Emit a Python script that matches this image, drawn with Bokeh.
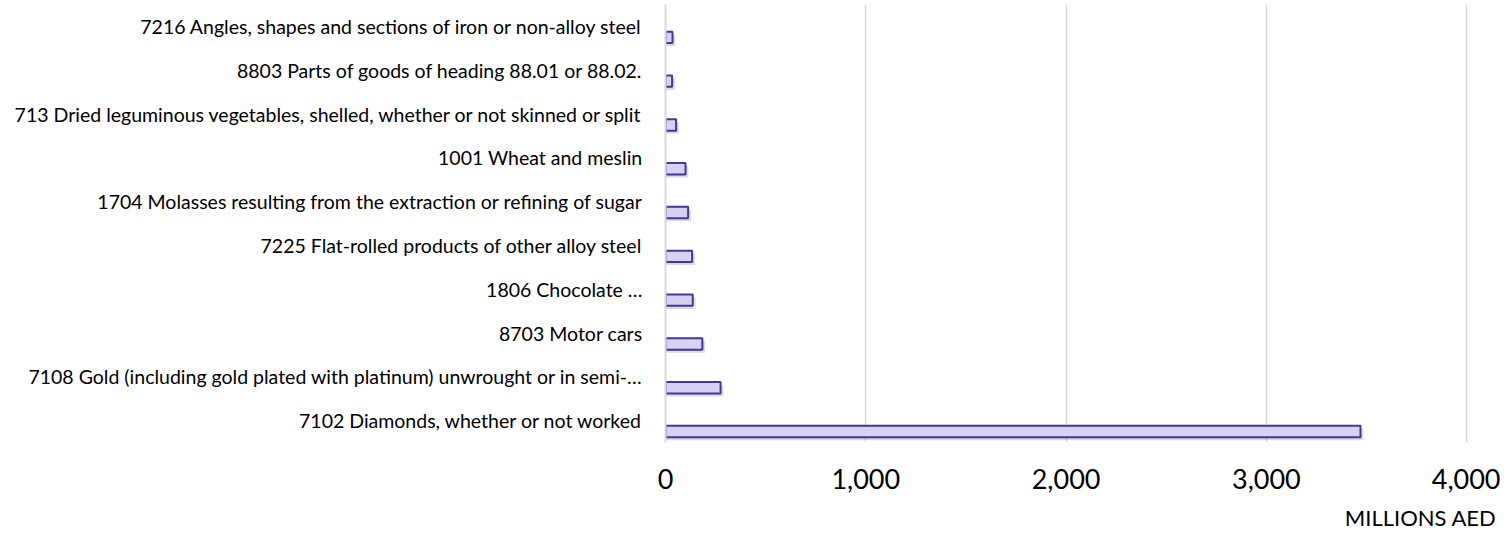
from bokeh.plotting import figure
from bokeh.models import FactorRange, FixedTicker, NumeralTickFormatter, ColumnDataSource, Title, Range1d
from bokeh.transform import dodge
from bokeh.embed import file_html
from bokeh.resources import INLINE

# Data (top to bottom as shown)
categories = [
    "7216 Angles, shapes and sections of iron or non-alloy steel",
    "8803 Parts of goods of heading 88.01 or 88.02.",
    "713 Dried leguminous vegetables, shelled, whether or not skinned or split",
    "1001 Wheat and meslin",
    "1704 Molasses resulting from the extraction or refining of sugar",
    "7225 Flat-rolled products of other alloy steel",
    "1806 Chocolate …",
    "8703 Motor cars",
    "7108 Gold (including gold plated with platinum) unwrought or in semi-…",
    "7102 Diamonds, whether or not worked",
]
values = [35, 33, 53, 100, 113, 133, 136, 184, 275, 3470]
x_ticks = [0, 1000, 2000, 3000, 4000]
x_title = "MILLIONS AED"

# bottom-to-top order for the factor range
cats_bt = categories[::-1]
vals_bt = values[::-1]
source = ColumnDataSource(dict(cat=cats_bt, val=vals_bt,
                               shadow=[v + 14 for v in vals_bt]))

FONT = "Lato"

p = figure(
    width=1500, height=541,
    y_range=FactorRange(factors=cats_bt, range_padding=0),
    x_range=Range1d(0, 4149),
    output_backend="svg", toolbar_location=None,
    min_border_left=665, min_border_right=4, min_border_top=4, min_border_bottom=99,
)
p.outline_line_color = None
p.background_fill_color = "white"
p.border_fill_color = "white"

# soft shadow
p.hbar(y=dodge("cat", -0.32, range=p.y_range), right="shadow", left=0, height=0.26,
       source=source, fill_color="#000000", fill_alpha=0.14, line_color=None)
p.hbar(y=dodge("cat", -0.25, range=p.y_range), right="val", left=0, height=0.26,
       source=source, fill_color="#d6d2f1", line_color="#45369a", line_width=2)

# x axis
p.xaxis.ticker = FixedTicker(ticks=x_ticks)
p.xaxis.formatter = NumeralTickFormatter(format="0,0")
p.xaxis.axis_line_color = None
p.xaxis.major_tick_line_color = None
p.xaxis.minor_tick_line_color = None
p.xaxis.major_label_text_font = FONT
p.xaxis.major_label_text_font_size = "27px"
p.xaxis.major_label_text_color = "#000000"
p.xaxis.major_label_standoff = 20

# y axis
p.yaxis.axis_line_color = "#d9d9d9"
p.yaxis.axis_line_width = 2
p.yaxis.major_tick_line_color = None
p.yaxis.minor_tick_line_color = None
p.yaxis.major_label_text_font = FONT
p.yaxis.major_label_text_font_size = "19.5px"
p.yaxis.major_label_text_color = "#000000"
p.yaxis.major_label_standoff = 17

p.xgrid.grid_line_color = "#d9d9d9"
p.xgrid.grid_line_width = 1.5
p.xgrid.ticker = FixedTicker(ticks=x_ticks)
p.ygrid.grid_line_color = None

t = Title(text=x_title, align="right", text_font=FONT, text_font_size="22px",
          text_font_style="normal", text_color="#000000", standoff=20)
p.add_layout(t, "below")

open("out.html", "w").write(file_html(p, INLINE))
